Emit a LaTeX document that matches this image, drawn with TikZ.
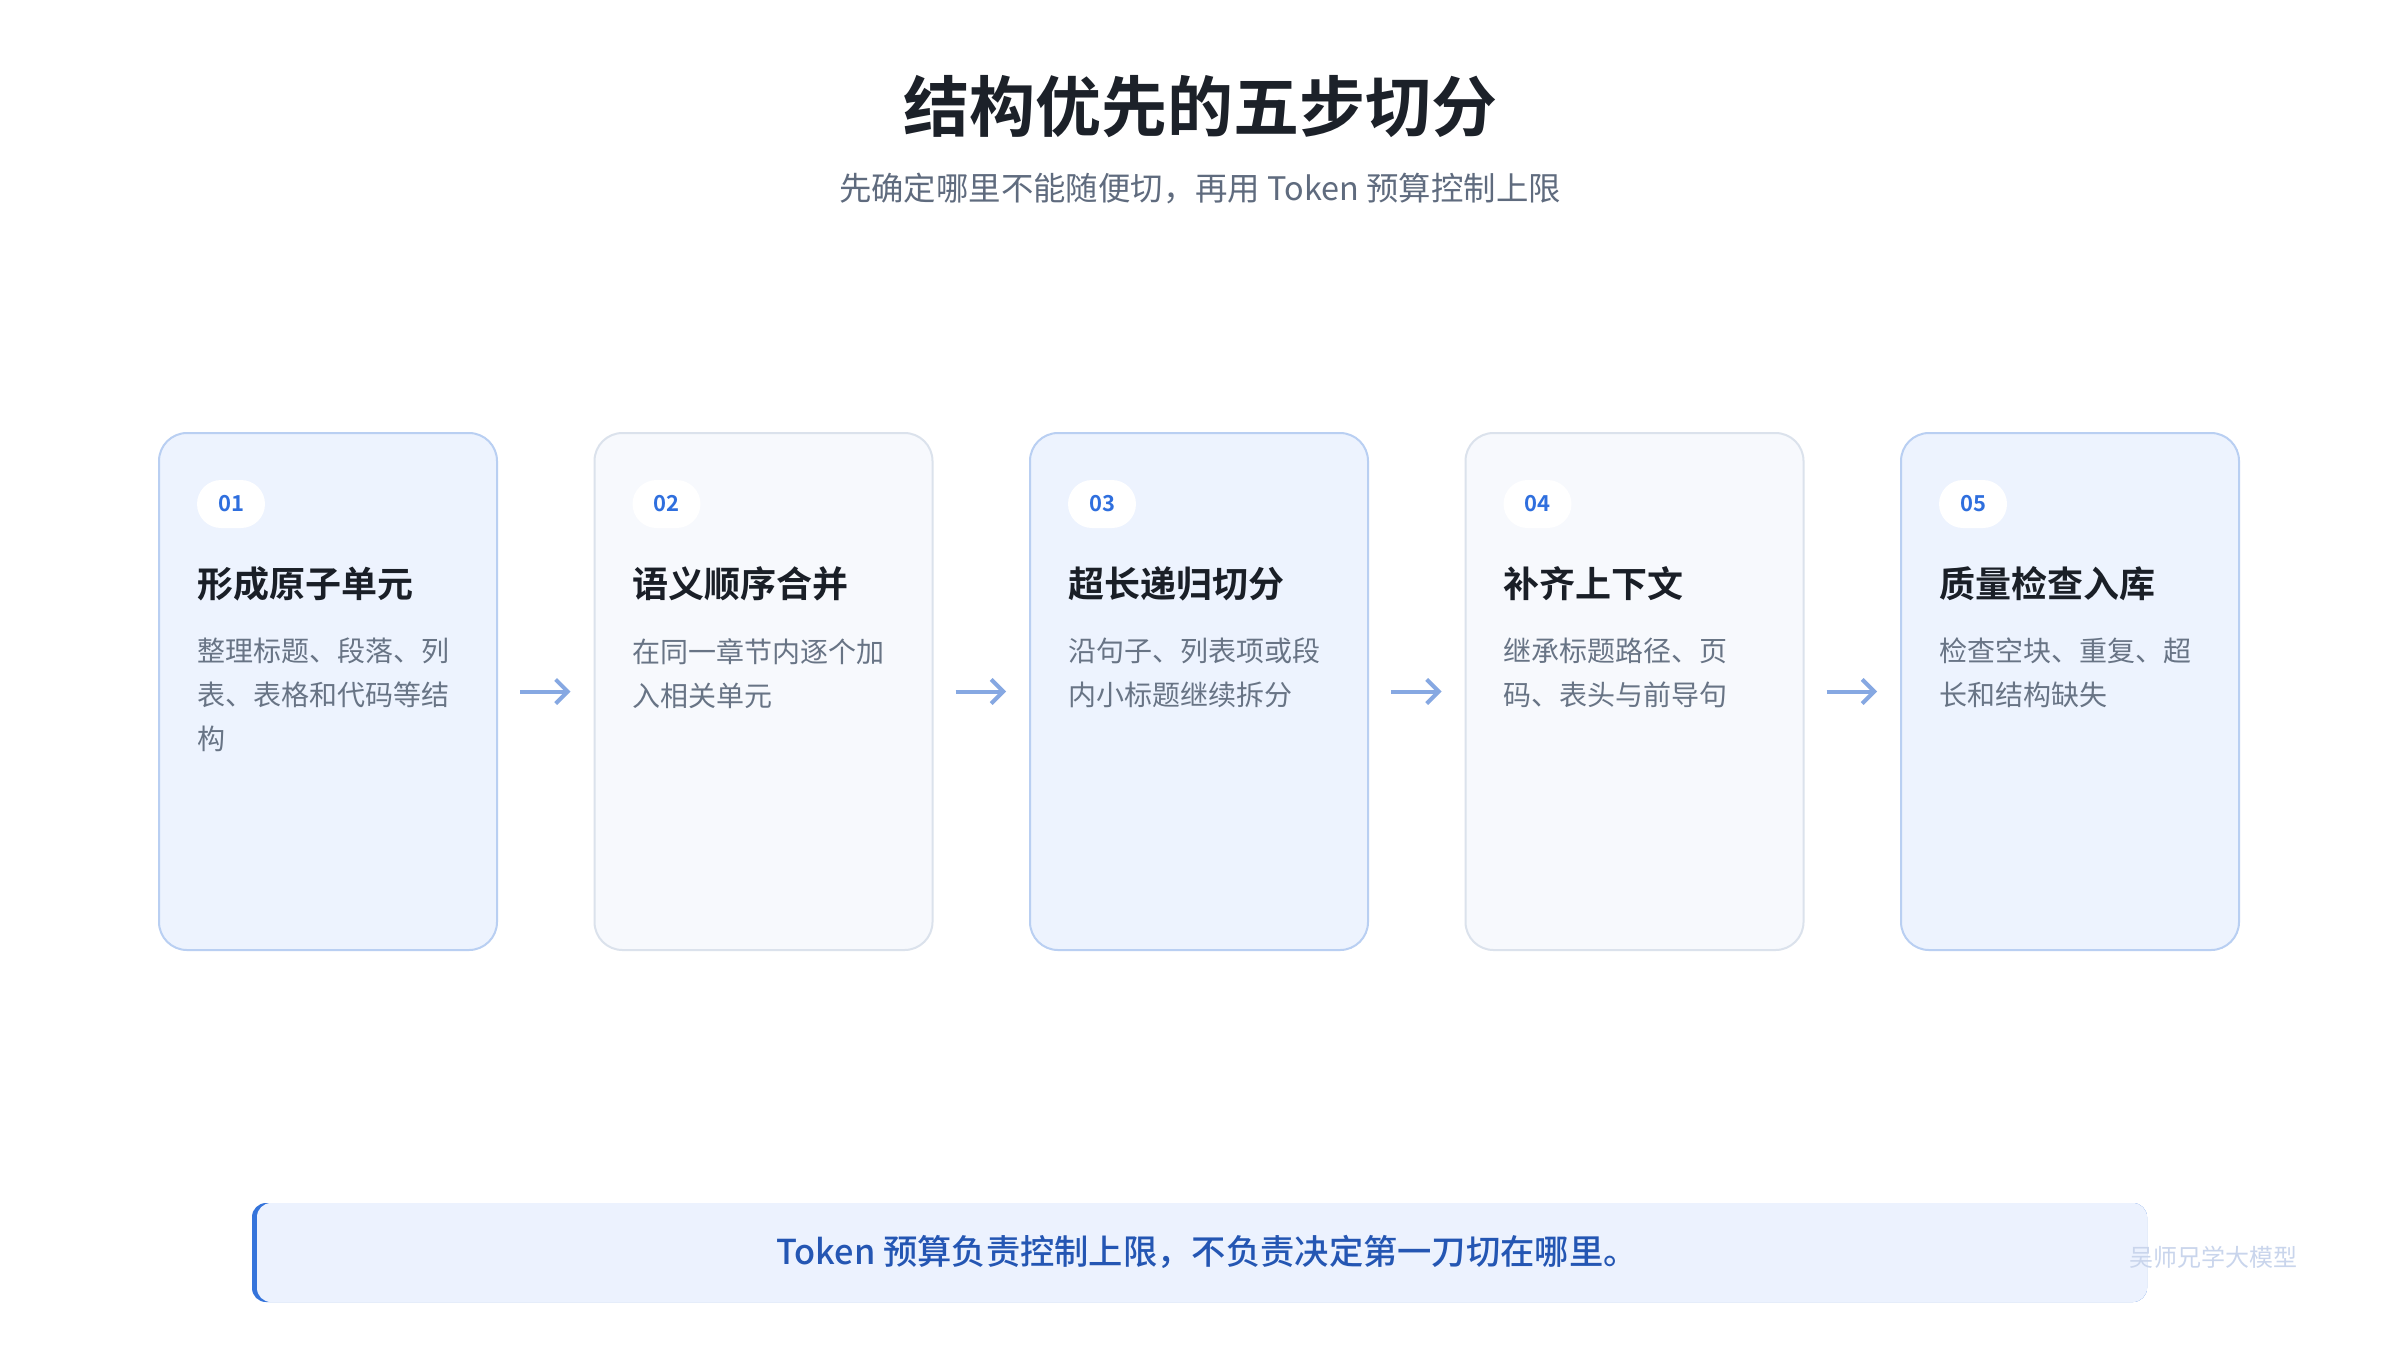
\documentclass[tikz,border=0pt]{standalone}
\usepackage{fontspec}
\setmainfont{Noto Sans CJK SC}[BoldFont={Noto Sans CJK SC Bold}]
\newfontfamily\medfont{Noto Sans CJK SC Medium}
\usetikzlibrary{arrows.meta,calc}
\pgfdeclarelayer{bg}
\pgfsetlayers{bg,main}
\definecolor{titlec}{HTML}{1C2129}
\definecolor{subc}{HTML}{5F6B7E}
\definecolor{headc}{HTML}{1A1F27}
\definecolor{descc}{HTML}{687485}
\definecolor{badgec}{HTML}{2F6FDE}
\definecolor{bluefill}{HTML}{EDF3FE}
\definecolor{blueline}{HTML}{B9CFF2}
\definecolor{grayfill}{HTML}{F7F9FD}
\definecolor{grayline}{HTML}{DBE2EC}
\definecolor{arrowc}{HTML}{86A8E2}
\definecolor{barfill}{HTML}{ECF2FE}
\definecolor{barline}{HTML}{3574DB}
\definecolor{bartext}{HTML}{2456B3}
\definecolor{markc}{HTML}{C9D5EC}
\begin{document}
\begin{tikzpicture}[x=1pt,y=-1pt,
  cardbase/.style={rectangle, rounded corners=28pt, minimum width=338pt, minimum height=517pt, line width=2pt},
  bluecard/.style={cardbase, fill=bluefill, draw=blueline},
  graycard/.style={cardbase, fill=grayfill, draw=grayline},
  halo/.style={fill=black, opacity=0.006},
  badge/.style={rectangle, rounded corners=24pt, minimum width=68pt, minimum height=48pt, fill=white, inner sep=0pt,
    text=badgec, font=\bfseries\fontsize{22pt}{22pt}\selectfont},
  head/.style={anchor=west, inner sep=0pt, text=headc, font=\bfseries\fontsize{36pt}{36pt}\selectfont},
  desc/.style={anchor=north west, inner sep=0pt, align=left, text=descc, font=\fontsize{28pt}{44pt}\selectfont},
  flow/.style={draw=arrowc, line width=4pt, -{Straight Barb[length=12pt, width=24pt, line width=4pt]}}
]
\useasboundingbox[fill=white] (0,0) rectangle (2400,1350);

% title
\node[text=titlec, font=\bfseries\fontsize{66pt}{66pt}\selectfont] (title) at (1200,107) {结构优先的五步切分};
\node[text=subc, font=\fontsize{32.4pt}{32.4pt}\selectfont] (sub) at (1200,189) {先确定哪里不能随便切，再用 Token 预算控制上限};

% cards
\node[bluecard] (c1) at (328,691.5) {};
\node[graycard] (c2) at (763.5,691.5) {};
\node[bluecard] (c3) at (1199,691.5) {};
\node[graycard] (c4) at (1634.5,691.5) {};
\node[bluecard] (c5) at (2070,691.5) {};

% soft halo behind cards
\begin{pgfonlayer}{bg}
\foreach \c in {c1,c2,c3,c4,c5}{
  \foreach \k in {1,...,10}{
    \fill[halo, rounded corners=28+1.6*\k] ($(\c.north west)+(-1.6*\k,-1.6*\k+4)$) rectangle ($(\c.south east)+(1.6*\k,1.6*\k+4)$);
  }
}
\end{pgfonlayer}

% badges
\node[badge] (b1) at (231,504) {01};
\node[badge] (b2) at (666.5,504) {02};
\node[badge] (b3) at (1102,504) {03};
\node[badge] (b4) at (1537.5,504) {04};
\node[badge] (b5) at (1973,504) {05};

% headings
\node[head] (h1) at (197,584) {形成原子单元};
\node[head] (h2) at (632.5,584) {语义顺序合并};
\node[head] (h3) at (1068,584) {超长递归切分};
\node[head] (h4) at (1503.5,584) {补齐上下文};
\node[head] (h5) at (1939,584) {质量检查入库};

% descriptions
\node[desc] (d1) at (197,638) {整理标题、段落、列\\表、表格和代码等结\\构};
\node[desc] (d2) at (632.5,638) {在同一章节内逐个加\\入相关单元};
\node[desc] (d3) at (1068,638) {沿句子、列表项或段\\内小标题继续拆分};
\node[desc] (d4) at (1503.5,638) {继承标题路径、页\\码、表头与前导句};
\node[desc] (d5) at (1939,638) {检查空块、重复、超\\长和结构缺失};

% arrows
\draw[flow] ($(c1.east)+(22,0)$) -- ($(c2.west)+(-23,0)$);
\draw[flow] ($(c2.east)+(22,0)$) -- ($(c3.west)+(-23,0)$);
\draw[flow] ($(c3.east)+(22,0)$) -- ($(c4.west)+(-23,0)$);
\draw[flow] ($(c4.east)+(22,0)$) -- ($(c5.west)+(-23,0)$);

% bottom bar
\fill[barline, rounded corners=14pt] (252,1203) rectangle (2147,1302);
\fill[barfill, rounded corners=14pt] (257,1203) rectangle (2147,1302);
\node[text=bartext, font=\medfont\fontsize{34.3pt}{34.3pt}\selectfont] (note) at (1207,1252) {Token 预算负责控制上限，不负责决定第一刀切在哪里。};

% watermark
\node[text=markc, font=\fontsize{24pt}{24pt}\selectfont] (mark) at (2213,1257) {吴师兄学大模型};
\end{tikzpicture}
\end{document}
